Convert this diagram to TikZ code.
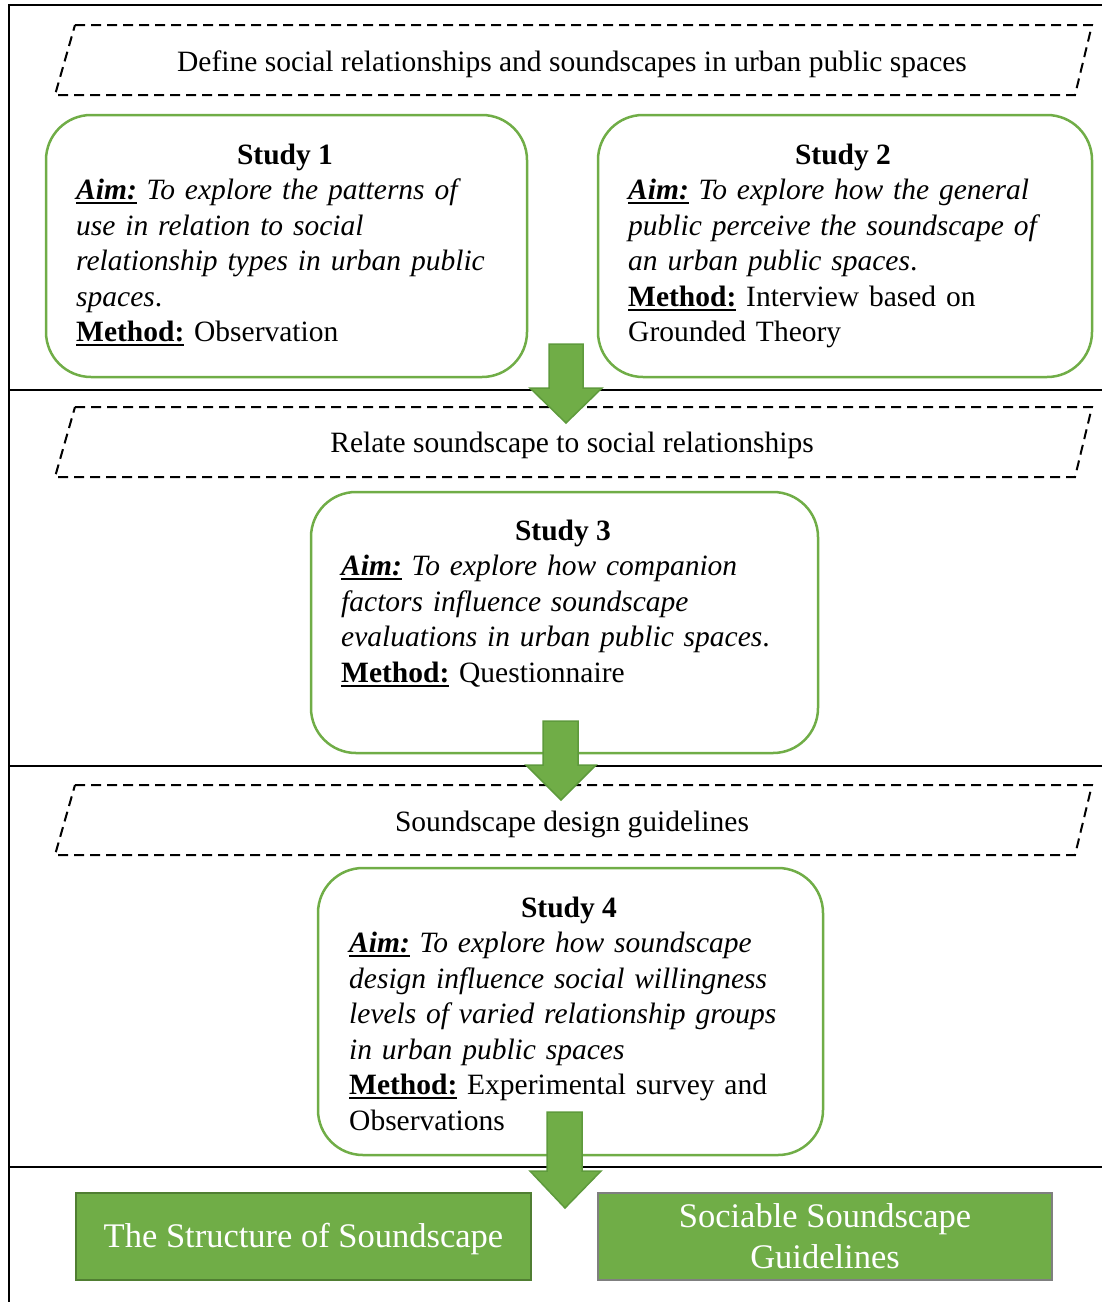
\documentclass[tikz,border=0pt]{standalone}
\usepackage{fontspec}
\setmainfont{Liberation Serif}
\definecolor{sgreen}{HTML}{70AD47}
\definecolor{sdark}{HTML}{507E32}
\definecolor{arrowedge}{HTML}{5E9A3C}
\definecolor{sgray}{HTML}{7F7F7F}
% underline with a fixed rule
\newcommand\uln[1]{\leavevmode\setbox0\hbox{#1}\rlap{\rule[-4.5pt]{\wd0}{1.8pt}}\box0}
\newcommand\aimlabel{\uln{\textbf{\textit{Aim:}}}}
\newcommand\methodlabel{\uln{\textbf{Method:}}}
\begin{document}
\begin{tikzpicture}[x=1pt,y=-1pt,
  frameline/.style={line width=2pt, black},
  phase/.style={draw, dashed, dash pattern=on 10pt off 6pt, line width=2pt},
  phasetext/.style={font=\fontsize{29.5pt}{35.5pt}\selectfont, inner sep=0pt},
  studybox/.style={draw=sgreen, line width=2.5pt, rounded corners=45pt, inner sep=0pt},
  studytitle/.style={font=\fontsize{29.5pt}{35.5pt}\selectfont\bfseries, inner sep=0pt},
  studytext/.style={font=\fontsize{29.5pt}{35.5pt}\selectfont, inner sep=0pt, align=left, text width=480pt},
  blockarrow/.style={fill=sgreen, draw=arrowedge, line width=1.5pt, line join=miter},
  outbox/.style={fill=sgreen, line width=2.5pt, text=white, inner sep=0pt,
    font=\fontsize{34.5pt}{41pt}\selectfont, align=center}]
\useasboundingbox (0,0) rectangle (1102,1302);

% outer frame and section rules
\draw[frameline] (9,1302) -- (9,5) -- (1102,5);
\draw[frameline] (9,390) -- (1102,390);
\draw[frameline] (9,766) -- (1102,766);
\draw[frameline] (9,1167) -- (1102,1167);

% phase banners
\draw[phase] (75,25) -- (1092,25) -- (1075,95) -- (55,95) -- cycle;
\node[phasetext] (p1) at (572,64) {Define social relationships and soundscapes in urban public spaces};
\draw[phase] (75,407) -- (1092,407) -- (1075,477) -- (55,477) -- cycle;
\node[phasetext] (p2) at (572,445) {Relate soundscape to social relationships};
\draw[phase] (75,785) -- (1092,785) -- (1075,855) -- (55,855) -- cycle;
\node[phasetext] (p3) at (572,824) {Soundscape design guidelines};

% study boxes
\node[studybox, minimum width=481pt, minimum height=262pt] (s1) at (286.5,246) {};
\node[studybox, minimum width=494pt, minimum height=262pt] (s2) at (845,246) {};
\node[studybox, minimum width=507pt, minimum height=261pt] (s3) at (564.5,622.5) {};
\node[studybox, minimum width=505pt, minimum height=287pt] (s4) at (570.5,1011.5) {};

% study 1
\node[studytitle, anchor=base] (h1) at (285,164) {Study 1};
\node[studytext, anchor=base west] (b1) at (76,199.5) {%
\aimlabel{} \textit{To explore the patterns of}\\
\textit{use in relation to social}\\
\textit{relationship types in urban public}\\
\textit{spaces}.\\
\methodlabel{} Observation};

% study 2
\node[studytitle, anchor=base] (h2) at (843,164) {Study 2};
\node[studytext, anchor=base west] (b2) at (628,199.5) {%
\aimlabel{} \textit{To explore how the general}\\
\textit{public perceive the soundscape of}\\
\textit{an urban public spaces}.\\
\methodlabel{} Interview based on\\
Grounded Theory};

% study 3
\node[studytitle, anchor=base] (h3) at (563,540) {Study 3};
\node[studytext, anchor=base west] (b3) at (341,575.5) {%
\aimlabel{} \textit{To explore how companion}\\
\textit{factors influence soundscape}\\
\textit{evaluations in urban public spaces}.\\
\methodlabel{} Questionnaire};

% study 4
\node[studytitle, anchor=base] (h4) at (569,917) {Study 4};
\node[studytext, anchor=base west] (b4) at (349,952.5) {%
\aimlabel{} \textit{To explore how soundscape}\\
\textit{design influence social willingness}\\
\textit{levels of varied relationship groups}\\
\textit{in urban public spaces}\\
\methodlabel{} Experimental survey and\\
Observations};

% outcomes
\node[outbox, draw=sdark, minimum width=455pt, minimum height=87pt] (o1) at (303.5,1236.5) {\raisebox{-3pt}[\height][\depth]{The Structure of Soundscape}};
\node[outbox, draw=sgray, minimum width=454pt, minimum height=87pt] (o2) at (825,1236.5) {Sociable Soundscape\\Guidelines};

% block arrows between stages
\draw[blockarrow] (549,344) -- (583,344) -- (583,388) -- (602,388) -- (566,423) -- (530,388) -- (549,388) -- cycle;
\draw[blockarrow] (543,721) -- (578,721) -- (578,765) -- (596,765) -- (561,800) -- (526,765) -- (543,765) -- cycle;
\draw[blockarrow] (547,1112) -- (582,1112) -- (582,1171) -- (601,1171) -- (565,1208) -- (530,1171) -- (547,1171) -- cycle;
\end{tikzpicture}
\end{document}
